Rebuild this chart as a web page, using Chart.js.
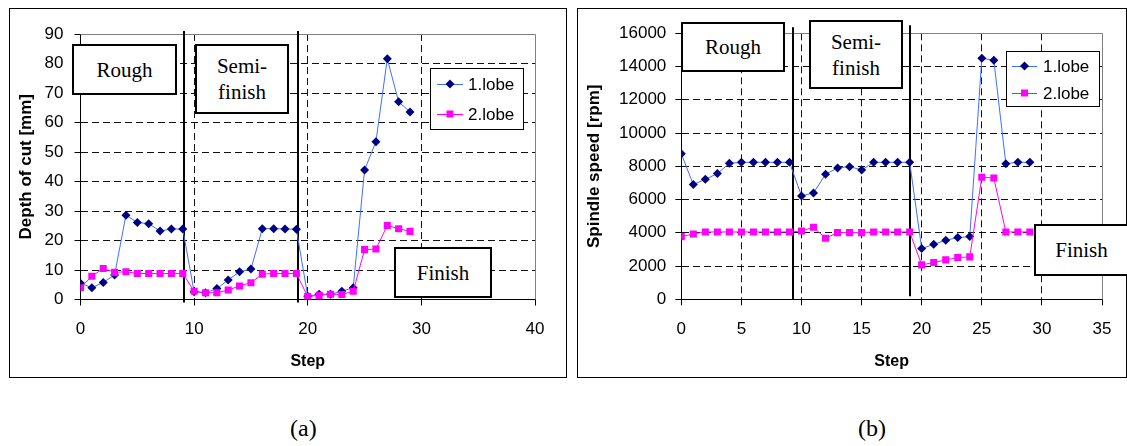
<!DOCTYPE html>
<html>
<head>
<meta charset="utf-8">
<script src="https://cdn.jsdelivr.net/npm/chart.js@4"></script>
<style>
  body { margin:0; width:1127px; height:446px; background:#fff; position:relative; overflow:hidden; }
  .frame { position:absolute; border:1px solid #000; box-sizing:border-box; }
  .wrap { position:absolute; top:0; }
  .note { position:absolute; background:#fff; border:2px solid #000; box-sizing:border-box;
          font-family:"Liberation Serif","Times New Roman",serif; font-size:21px; line-height:26px;
          display:flex; align-items:center; justify-content:center; text-align:center; z-index:2; color:#000; }
  .cap { position:absolute; top:415px; font-family:"Liberation Serif","Times New Roman",serif; font-size:24px; color:#000; }
</style>
</head>
<body>
<div class="frame" style="left:9px;top:8px;width:558px;height:370px"></div>
<div class="frame" style="left:577px;top:8px;width:550px;height:370px"></div>
<div class="wrap" style="left:0;width:572px;height:380px"><canvas id="depth" width="572" height="380"></canvas></div>
<div class="wrap" style="left:572px;width:555px;height:380px"><canvas id="speed" width="555" height="380"></canvas></div>

<div class="note" style="left:72px;top:44px;width:105px;height:51px">Rough</div>
<div class="note" style="left:195px;top:44px;width:94px;height:70px">Semi-<br>finish</div>
<div class="note" style="left:394px;top:247px;width:98px;height:51px">Finish</div>
<div class="note" style="left:681px;top:22px;width:104px;height:50px">Rough</div>
<div class="note" style="left:809px;top:20px;width:94px;height:69px">Semi-<br>finish</div>
<div class="note" style="left:1034px;top:224px;width:95px;height:52px">Finish</div>

<div class="cap" style="left:290px">(a)</div>
<div class="cap" style="left:858px">(b)</div>

<script>
// data
const steps = [0, 1, 2, 3, 4, 5, 6, 7, 8, 9, 10, 11, 12, 13, 14, 15, 16, 17, 18, 19, 20, 21, 22, 23, 24, 25, 26, 27, 28, 29];
const depthLobe1 = [5.5, 4.0, 5.8, 8.3, 28.6, 26.1, 25.7, 23.2, 23.9, 23.9, 2.6, 2.3, 3.7, 6.6, 9.4, 10.3, 24.0, 24.0, 23.9, 23.8, 1.1, 1.8, 1.8, 2.8, 4.0, 43.9, 53.5, 81.6, 67.0, 63.6];
const depthLobe2 = [4.0, 7.9, 10.5, 9.2, 9.4, 8.8, 8.8, 8.8, 8.8, 8.8, 2.8, 2.3, 2.3, 3.2, 4.6, 5.7, 8.6, 8.8, 8.8, 8.8, 1.0, 1.4, 1.8, 1.7, 2.8, 16.9, 17.1, 25.1, 24.0, 23.1];
const speedLobe1 = [8750, 6900, 7220, 7560, 8180, 8240, 8240, 8240, 8240, 8240, 6220, 6400, 7520, 7900, 7980, 7780, 8240, 8240, 8240, 8240, 3050, 3310, 3550, 3710, 3770, 14500, 14380, 8160, 8240, 8240];
const speedLobe2 = [3770, 3930, 4050, 4050, 4050, 4050, 4050, 4050, 4050, 4050, 4110, 4330, 3670, 4010, 4010, 4010, 4050, 4050, 4050, 4050, 2070, 2210, 2370, 2510, 2550, 7340, 7300, 4050, 4050, 4050];
const seriesNames = ['1.lobe', '2.lobe'];

const stepTicksA = [0, 10, 20, 30, 40];
const depthTicks = [0, 10, 20, 30, 40, 50, 60, 70, 80, 90];
const stepTicksB = [0, 5, 10, 15, 20, 25, 30, 35];
const speedTicks = [0, 2000, 4000, 6000, 8000, 10000, 12000, 14000, 16000];

// where the machining phases change (in steps)
const phaseA = [9.1, 19.15];
const phaseB = [9.3, 19.0];

const SANS = '"Liberation Sans", Arial, sans-serif';

function points(vals) {
  return steps.map((s, i) => ({ x: s, y: vals[i] }));
}

function datasets(v1, v2) {
  return [{
    label: seriesNames[0],
    data: points(v1),
    borderColor: '#3f6fff',
    borderWidth: 1,
    pointStyle: 'rectRot',
    pointRadius: 4.5,
    pointBackgroundColor: '#000080',
    pointBorderColor: '#000080',
    pointBorderWidth: 0,
    order: 1
  }, {
    label: seriesNames[1],
    data: points(v2),
    borderColor: '#ff00ff',
    borderWidth: 1,
    pointStyle: 'rect',
    pointRadius: 5,
    pointBackgroundColor: '#ff00ff',
    pointBorderColor: '#ff00ff',
    pointBorderWidth: 0,
    order: 0
  }];
}

function gridColor(list) {
  return c => (c.tick && (c.tick.value === list[0] || c.tick.value === list[list.length - 1])) ? 'rgba(0,0,0,0)' : '#111';
}

function axes(xList, yList, o) {
  return {
    x: {
      type: 'linear', min: xList[0], max: xList[xList.length - 1],
      afterBuildTicks: s => { s.ticks = xList.map(v => ({ value: v })); },
      afterFit: s => { s.height = o.xHeight; },
      grid: { color: gridColor(xList), lineWidth: 1, tickLength: 6, tickColor: '#000' },
      border: { color: '#000', width: 1, dash: [7, 4] },
      ticks: { color: '#000', font: { family: SANS, size: 17 }, padding: 14, maxRotation: 0, autoSkip: false },
      title: { display: true, text: 'Step', color: '#000', font: { family: SANS, size: 16, weight: 'bold' }, padding: { top: 0, bottom: 5.5 } }
    },
    y: {
      min: yList[0], max: yList[yList.length - 1],
      afterBuildTicks: s => { s.ticks = yList.map(v => ({ value: v })); },
      afterFit: s => { s.width = o.yWidth; },
      grid: { color: gridColor(yList), lineWidth: 1, tickLength: 6, tickColor: '#000' },
      border: { color: '#000', width: 1, dash: [7, 4] },
      ticks: { color: '#000', font: { family: SANS, size: 17 }, padding: o.yPad, callback: v => String(v) },
      title: { display: true, text: o.yTitle, color: '#000', font: { family: SANS, size: 17, weight: 'bold' }, padding: { top: o.yTitlePad, bottom: 0 } }
    }
  };
}

const decor = {
  id: 'decor',
  beforeDatasetsDraw(chart, args, opts) {
    const { ctx, chartArea: a } = chart;
    ctx.save();
    ctx.strokeStyle = '#808080';
    ctx.lineWidth = 1;
    ctx.beginPath();
    ctx.moveTo(a.left, Math.round(a.top) + 0.5);
    ctx.lineTo(Math.round(a.right) + 0.5, Math.round(a.top) + 0.5);
    ctx.lineTo(Math.round(a.right) + 0.5, a.bottom);
    ctx.stroke();
    ctx.strokeStyle = '#000';
    ctx.lineWidth = 2;
    opts.phases.forEach((p, i) => {
      const px = Math.round(chart.scales.x.getPixelForValue(p));
      ctx.beginPath();
      ctx.moveTo(px, a.top - opts.ext[i][0]);
      ctx.lineTo(px, a.bottom + opts.ext[i][1]);
      ctx.stroke();
    });
    ctx.restore();
  },
  afterDraw(chart, args, opts) {
    const L = opts.legend;
    const ctx = chart.ctx;
    ctx.save();
    ctx.fillStyle = '#fff';
    ctx.fillRect(L.x, L.y, L.w, L.h);
    ctx.strokeStyle = '#000';
    ctx.lineWidth = 1;
    ctx.strokeRect(L.x + 0.5, L.y + 0.5, L.w, L.h);
    chart.data.datasets.forEach((ds, i) => {
      const y = L.rows[i];
      const cx = (L.x0 + L.x1) / 2;
      ctx.strokeStyle = ds.borderColor;
      ctx.beginPath();
      ctx.moveTo(L.x0, y + 0.5);
      ctx.lineTo(L.x1, y + 0.5);
      ctx.stroke();
      ctx.fillStyle = ds.pointBackgroundColor;
      ctx.beginPath();
      if (ds.pointStyle === 'rectRot') {
        ctx.moveTo(cx, y - 4.5); ctx.lineTo(cx + 4.5, y); ctx.lineTo(cx, y + 4.5); ctx.lineTo(cx - 4.5, y);
      } else {
        ctx.rect(cx - 3.5, y - 3.5, 7, 7);
      }
      ctx.closePath();
      ctx.fill();
      ctx.fillStyle = '#000';
      ctx.font = '17px ' + SANS;
      ctx.textBaseline = 'middle';
      ctx.fillText(ds.label, L.tx, y + 1);
    });
    ctx.restore();
  }
};

function makeChart(id, v1, v2, xList, yList, o) {
  return new Chart(document.getElementById(id), {
    type: 'line',
    data: { datasets: datasets(v1, v2) },
    options: {
      responsive: false,
      animation: false,
      events: [],
      layout: { padding: o.padding },
      scales: axes(xList, yList, o),
      plugins: {
        legend: { display: false },
        tooltip: { enabled: false },
        decor: { phases: o.phases, ext: o.ext, legend: o.legend }
      }
    },
    plugins: [decor]
  });
}

makeChart('depth', depthLobe1, depthLobe2, stepTicksA, depthTicks, {
  padding: { left: 10, top: 34, right: 37, bottom: 3 },
  yWidth: 70.5, xHeight: 77.5, yPad: 11, yTitlePad: 6.5,
  yTitle: 'Depth of cut [mm]',
  phases: phaseA, ext: [[3, 3], [3, 3]],
  legend: { x: 430, y: 68, w: 93, h: 61, rows: [84, 114], x0: 437, x1: 463, tx: 468 }
});

makeChart('speed', speedLobe1, speedLobe2, stepTicksB, speedTicks, {
  padding: { left: 6, top: 33.3, right: 25, bottom: 3 },
  yWidth: 103.3, xHeight: 77.7, yPad: 9, yTitlePad: 6,
  yTitle: 'Spindle speed [rpm]',
  phases: phaseB, ext: [[6, 0], [8, -3]],
  legend: { x: 434, y: 51, w: 93, h: 55, rows: [66, 93], x0: 440, x1: 465, tx: 471 }
});
</script>
</body>
</html>
